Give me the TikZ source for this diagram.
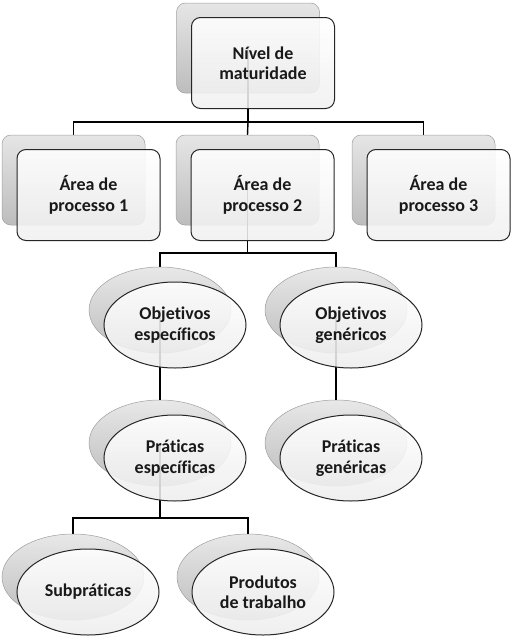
\documentclass[tikz,border=0pt]{standalone}
\usepackage{fontspec}
\setmainfont{Carlito}[Ligatures=NoCommon]
\usetikzlibrary{shapes.geometric}
\tikzset{
  boxgeom/.style={rounded corners=9pt, minimum width=143pt, minimum height=90pt, inner sep=0pt},
  ellgeom/.style={ellipse, minimum width=142pt, minimum height=86pt, inner sep=0pt},
  backbox/.style={boxgeom, draw=gray!75, line width=0.5pt, top color=gray!20, bottom color=gray!52},
  frontbox/.style={boxgeom, minimum height=91pt, draw=black!85, line width=1pt, top color=white, bottom color=gray!12, fill opacity=0.88, text opacity=1, draw opacity=1, align=center, text=black!90, font=\fontsize{18}{20.5}\selectfont\bfseries},
  backell/.style={ellgeom, draw=gray!75, line width=0.5pt, top color=gray!18, bottom color=gray!52},
  frontell/.style={ellgeom, draw=black!85, line width=1pt, top color=white, bottom color=gray!14, fill opacity=0.88, text opacity=1, draw opacity=1, align=center, text=black!90, font=\fontsize{18}{20.5}\selectfont\bfseries},
  conn/.style={draw=black, line width=1.4pt}
}
\begin{document}
\begin{tikzpicture}[x=1pt,y=-1pt]
\useasboundingbox (0,0) rectangle (515,643);
% placeholders for geometry of back shapes
\path node[boxgeom] (topb) at (248,48) {}
      node[boxgeom] (a1b) at (73.5,180) {}
      node[boxgeom] (a2b) at (247.5,180) {}
      node[boxgeom] (a3b) at (423.5,180) {}
      node[ellgeom] (oeb) at (160,310) {}
      node[ellgeom] (ogb) at (336,310) {}
      node[ellgeom] (peb) at (160,443) {}
      node[ellgeom] (pgb) at (336,443) {}
      node[ellgeom] (sbb) at (73,577) {}
      node[ellgeom] (ptb) at (248,577) {};
\coordinate (j1) at (248,122);
\coordinate (j2) at (247.5,253);
\coordinate (j3) at (160,518);
% connectors
\draw[conn] (topb.center) -- (j1) -| (a1b.north);
\draw[conn] (j1) -| (a3b.north);
\draw[conn] (j1) -- (a2b.north);
\draw[conn] (a2b.center) -- (j2) -| (oeb.north);
\draw[conn] (j2) -| (ogb.north);
\draw[conn] (oeb.center) -- (peb.north);
\draw[conn] (ogb.center) -- (pgb.north);
\draw[conn] (peb.center) -- (j3) -| (sbb.north);
\draw[conn] (j3) -| (ptb.north);
% back shapes
\node[backbox] at (topb) {};
\node[backbox] at (a1b) {};
\node[backbox] at (a2b) {};
\node[backbox] at (a3b) {};
\node[backell] at (oeb) {};
\node[backell] at (ogb) {};
\node[backell] at (peb) {};
\node[backell] at (pgb) {};
\node[backell] at (sbb) {};
\node[backell] at (ptb) {};
% vertical stubs faintly visible through the fronts
\draw[conn] (topb.center) -- (j1);
\draw[conn] (a2b.center) -- (j2);
\draw[conn] (oeb.center) -- (peb.north);
\draw[conn] (ogb.center) -- (pgb.north);
\draw[conn] (peb.center) -- (j3);
% front shapes
\node[frontbox] (topf) at (263,63) {Nível de\\maturidade};
\node[frontbox] (a1f) at (88.5,195) {Área de\\processo 1};
\node[frontbox] (a2f) at (262.5,195) {Área de\\processo 2};
\node[frontbox] (a3f) at (438.5,195) {Área de\\processo 3};
\node[frontell] (oef) at (175,325) {Objetivos\\específicos};
\node[frontell] (ogf) at (351,325) {Objetivos\\genéricos};
\node[frontell] (pef) at (175,458) {Práticas\\específicas};
\node[frontell] (pgf) at (351,458) {Práticas\\genéricas};
\node[frontell] (sbf) at (88,592) {Subpráticas};
\node[frontell] (ptf) at (263,592) {Produtos\\de trabalho};
\end{tikzpicture}
\end{document}
